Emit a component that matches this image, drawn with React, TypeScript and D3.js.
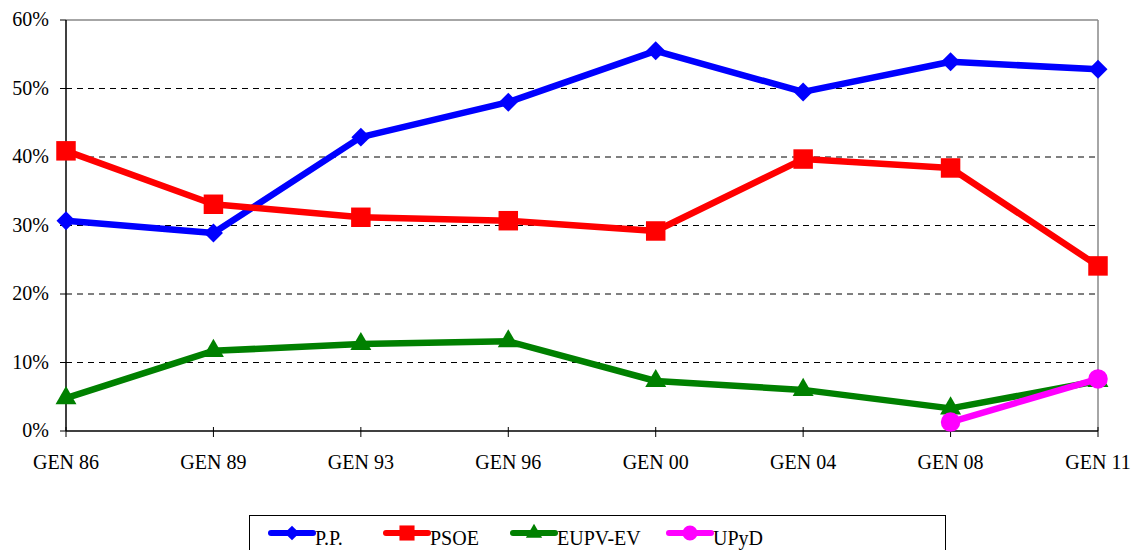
import React from 'react';
import { scalePoint, scaleLinear, line, symbol, symbolSquare, symbolTriangle, symbolCircle } from 'd3';

const elections = ['GEN 86', 'GEN 89', 'GEN 93', 'GEN 96', 'GEN 00', 'GEN 04', 'GEN 08', 'GEN 11'];
const pp = [30.7, 28.9, 42.9, 48.0, 55.5, 49.5, 53.9, 52.8];
const psoe = [40.9, 33.1, 31.2, 30.7, 29.2, 39.7, 38.4, 24.1];
const eupv = [4.8, 11.7, 12.7, 13.1, 7.3, 6.0, 3.3, 7.3];
const upyd = [null, null, null, null, null, null, 1.3, 7.6];
const yTicks = [0, 10, 20, 30, 40, 50, 60];

// wide diamond (rotated square) like the spreadsheet marker
const wideDiamond = {
    draw(ctx: any, size: number) {
        const r = Math.sqrt(size / 2);
        ctx.moveTo(0, -r);
        ctx.lineTo(r, 0);
        ctx.lineTo(0, r);
        ctx.lineTo(-r, 0);
        ctx.closePath();
    }
};

const series = [
    { name: 'P.P.', values: pp, color: '#0000ff', shape: wideDiamond, size: 180 },
    { name: 'PSOE', values: psoe, color: '#ff0000', shape: symbolSquare, size: 380 },
    { name: 'EUPV-EV', values: eupv, color: '#008000', shape: symbolTriangle, size: 190 },
    { name: 'UPyD', values: upyd, color: '#ff00ff', shape: symbolCircle, size: 300 },
];

const legendX = [271, 386, 513, 669];

export default function App() {
    const width = 1135;
    const height = 550;
    const left = 66, right = 1098, top = 20, bottom = 431;

    const x = scalePoint().domain(elections).range([left, right]);
    const y = scaleLinear().domain([0, 60]).range([bottom, top]);

    const font = '"Liberation Serif", "Times New Roman", serif';

    return (
        <svg width={width} height={height} style={{ position: 'absolute', left: 0, top: 0 }} fontFamily={font}>
            {/* grid */}
            {yTicks.slice(1, -1).map(t => (
                <line key={t} x1={left} x2={right} y1={y(t)} y2={y(t)} stroke="#000" strokeWidth={1} strokeDasharray="6,5" />
            ))}
            {/* frame */}
            <line x1={left} x2={right} y1={top} y2={top} stroke="#888" strokeWidth={1.5} />
            <line x1={right} x2={right} y1={top} y2={bottom} stroke="#888" strokeWidth={1.5} />
            <line x1={left} x2={left} y1={top} y2={bottom} stroke="#000" strokeWidth={1.5} />
            <line x1={left} x2={right} y1={bottom} y2={bottom} stroke="#000" strokeWidth={1.5} />
            {yTicks.map(t => (
                <g key={t}>
                    <line x1={left - 6} x2={left} y1={y(t)} y2={y(t)} stroke="#000" strokeWidth={1} />
                    <text x={49} y={y(t)} dy="0.32em" textAnchor="end" fontSize={20}>{t}%</text>
                </g>
            ))}
            {elections.map(e => (
                <g key={e}>
                    <line x1={x(e)} x2={x(e)} y1={bottom - 4} y2={bottom + 6} stroke="#000" strokeWidth={1} />
                    <text x={x(e)} y={469} textAnchor="middle" fontSize={20}>{e}</text>
                </g>
            ))}
            {/* series */}
            {series.map(s => {
                const pts = s.values.map((v, i) => ({ v, e: elections[i] })).filter(p => p.v != null);
                const path = line<any>().x(p => x(p.e)).y(p => y(p.v))(pts);
                return (
                    <g key={s.name}>
                        <path d={path || ''} fill="none" stroke={s.color} strokeWidth={6.5} strokeLinejoin="round" />
                        {pts.map(p => (
                            <path key={p.e} transform={`translate(${x(p.e)},${y(p.v)})`} d={symbol().type(s.shape as any).size(s.size)() || ''} fill={s.color} />
                        ))}
                    </g>
                );
            })}
            {/* legend */}
            <rect x={249.5} y={515.5} width={696} height={40} fill="#fff" stroke="#000" strokeWidth={1} />
            {series.map((s, i) => (
                <g key={s.name}>
                    <line x1={legendX[i]} x2={legendX[i] + 42} y1={533} y2={533} stroke={s.color} strokeWidth={6} strokeLinecap="round" />
                    <path transform={`translate(${legendX[i] + 21},533)`} d={symbol().type(s.shape as any).size(s.size * 0.6)() || ''} fill={s.color} />
                    <text x={legendX[i] + 44} y={545} fontSize={20}>{s.name}</text>
                </g>
            ))}
        </svg>
    );
}
